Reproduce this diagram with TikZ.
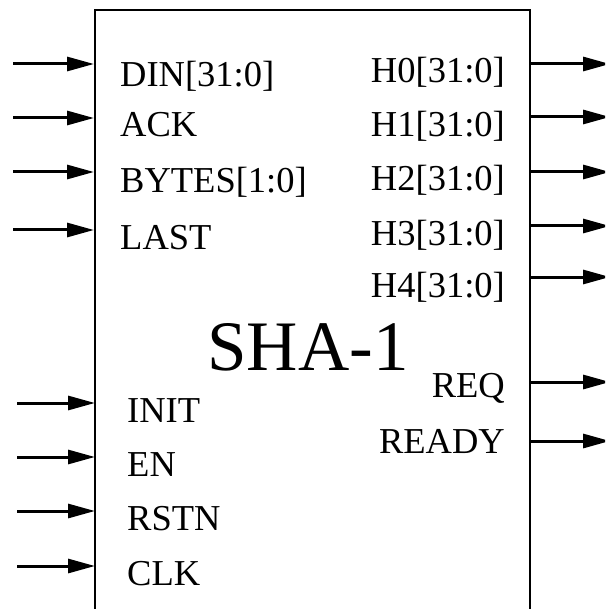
\documentclass[tikz,border=0pt]{standalone}
\usepackage{fontspec}
\setmainfont{Liberation Serif}
\usetikzlibrary{arrows.meta}
\begin{document}
\begin{tikzpicture}[x=1pt,y=-1pt,
  port/.style={line width=3pt,-{Triangle[length=27pt,width=14pt]}},
  lbl/.style={inner sep=0pt,font=\fontsize{36.5}{40}\selectfont},
  lin/.style={lbl,anchor=base west},
  rin/.style={lbl,anchor=base east}]
\useasboundingbox (0,0) rectangle (605,609);
\begin{scope}
\clip (0,0) rectangle (605,609);
\draw[line width=2.8pt] (95,612) -- (95,10) -- (530,10) -- (530,612);
\node[inner sep=0pt,anchor=base,font=\fontsize{71}{76}\selectfont] (title) at (308,370) {SHA-1};
% left upper inputs
\foreach \n/\y/\b/\t in {din/64/87/{DIN[31:0]},ack/118/137/ACK,bytes/172/193/{BYTES[1:0]},last/230/250/LAST}{
  \coordinate (\n s) at (13,\y);
  \coordinate (\n e) at (94,\y);
  \node[lin] (\n) at (120,\b) {\t};
  \draw[port] (\n s) -- (\n e);
}
% left lower inputs
\foreach \n/\y/\b/\t in {init/403/422/INIT,en/457/476/EN,rstn/511/530/RSTN,clk/566/585/CLK}{
  \coordinate (\n s) at (17,\y);
  \coordinate (\n e) at (95,\y);
  \node[lin] (\n) at (127,\b) {\t};
  \draw[port] (\n s) -- (\n e);
}
% right outputs
\foreach \n/\y/\b/\t in {hz/64/83/{H0[31:0]},ho/117/137/{H1[31:0]},htw/172/191/{H2[31:0]},hth/226/245/{H3[31:0]},hf/277/297/{H4[31:0]},req/382/397/REQ,ready/441/453/READY}{
  \coordinate (\n s) at (530,\y);
  \coordinate (\n e) at (610,\y);
  \node[rin] (\n) at (505,\b) {\t};
  \draw[port] (\n s) -- (\n e);
}
\end{scope}
\end{tikzpicture}
\end{document}
